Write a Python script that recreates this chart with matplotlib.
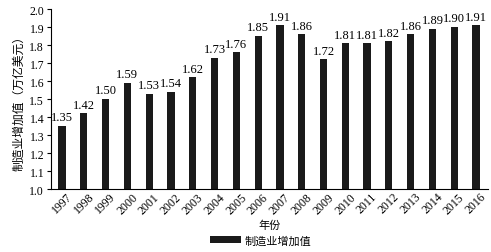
import numpy as np
import matplotlib.pyplot as plt

plt.rcParams['font.family'] = ['Liberation Serif', 'Noto Sans CJK SC']

years = [str(y) for y in range(1997, 2017)]
values = [1.35, 1.42, 1.50, 1.59, 1.53, 1.54, 1.62, 1.73, 1.76, 1.85,
          1.91, 1.86, 1.72, 1.81, 1.81, 1.82, 1.86, 1.89, 1.90, 1.91]
labels = ['1.35', '1.42', '1.50', '1.59', '1.53', '1.54', '1.62', '1.73', '1.76', '1.85',
          '1.91', '1.86', '1.72', '1.81', '1.81', '1.82', '1.86', '1.89', '1.90', '1.91']

fig = plt.figure(figsize=(4.91, 2.53), dpi=100)
ax = fig.add_axes([0.104, 0.249, 0.890, 0.711])

x = np.arange(len(years))
bars = ax.bar(x, values, width=0.33, color='#1a1a1a', label='制造业增加值')

for xi, v, s in zip(x, values, labels):
    ax.text(xi, v + 0.015, s, ha='center', va='bottom', fontsize=9)

ax.set_ylim(1.0, 2.0)
ax.set_xlim(-0.5, 19.55)
ax.set_yticks(np.arange(1.0, 2.01, 0.1))
ax.set_yticklabels(['%.1f' % t for t in np.arange(1.0, 2.01, 0.1)], fontsize=8.5)
ax.set_xticks(x)
ax.set_xticklabels(years, rotation=45, fontsize=8.5, ha='center')
ax.tick_params(axis='x', length=0, pad=1)
ax.tick_params(axis='y', length=3, pad=2)

ax.spines['top'].set_visible(False)
ax.spines['right'].set_visible(False)

ax.set_xlabel('年份', fontsize=8, labelpad=3, family=['Noto Sans CJK SC'])
ax.set_ylabel('制造业增加值（万亿美元）', fontsize=8.5, family=['Noto Sans CJK SC'], labelpad=3)

leg = fig.legend(handles=[bars], labels=['制造业增加值'], loc='center',
                 bbox_to_anchor=(0.53, 0.045), frameon=False,
                 prop={'family': 'Noto Sans CJK SC', 'size': 8},
                 handlelength=2.8, handleheight=0.6, handletextpad=0.3)

fig.savefig('out.png', dpi=100)
